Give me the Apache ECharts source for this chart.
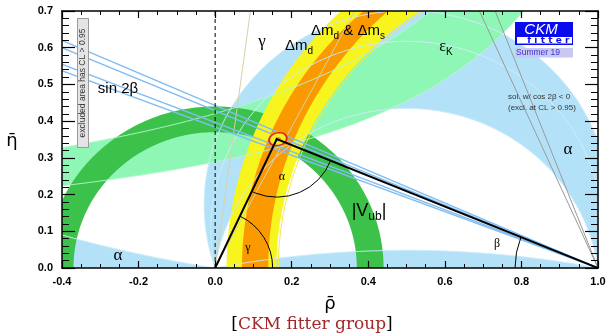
<!DOCTYPE html>
<html>
<head>
<meta charset="utf-8">
<title>Unitarity triangle – CKM fitter</title>
<script src="https://cdn.jsdelivr.net/npm/echarts@6.0.0/dist/echarts.min.js"></script>
<style>
html, body { margin: 0; padding: 0; background: #fff; }
#chart { width: 606px; height: 335px; }
</style>
</head>
<body>
<div id="chart"></div>
<script>
// ---------- constraint values in the (rho-bar, eta-bar) plane ----------
const apex = [0.161, 0.351];                 // global fit, best point
const apexContour = [0.026, 0.019, 15];      // 95% CL ellipse: semi-axes (rho, eta), tilt (deg)
const vubRadius = [0.37, 0.44];              // |Vub| annulus around (0,0)
// dmd & dms edges as circles [centre rho, radius] (centre eta = 0)
const dmEdges95 = [[1, 0.84], [1, 0.97]];
const dmEdges68 = [[1.0775, 0.9388], [1, 0.93]];
const dmdOnlyRadius = [0.835];               // dmd alone, inner 95% CL edge
const alphaMain = [71, 98];                  // alpha (deg), main solution
const alphaFlat = [169, 180];                // alpha (deg), flat solution
const alphaLow = [0, 9];                     // alpha (deg), low solution (rho < 0)
const alphaExtraEdge = [78];                 // alpha (deg), 68% CL edge
const epsKLower = [1.371, 0.396];            // eps_K edge: eta = b / (a - rho) -> [a, b]
const epsKUpper = [1.412, 0.594];
const sin2Beta = [0.669, 0.685, 0.724, 0.740];
const gammaDeg = [62.5, 82.5];
const xTickLabels = ['-0.4', '-0.2', '0.0', '0.2', '0.4', '0.6', '0.8', '1.0'];
const yTickLabels = ['0.0', '0.1', '0.2', '0.3', '0.4', '0.5', '0.6', '0.7'];

// ---------- geometry helpers (data space) ----------
const RAD = Math.PI / 180;
const sans = 'Liberation Sans, Arial, sans-serif';
const serif = 'Liberation Serif, Times New Roman, serif';

function arcPoints(cx, cy, r, t0, t1, n) {
  const pts = [];
  for (let i = 0; i <= n; i++) {
    const t = t0 + (t1 - t0) * i / n;
    pts.push([cx + r * Math.cos(t), cy + r * Math.sin(t)]);
  }
  return pts;
}
function annulus(cx, cy, r0, r1, t0, t1) {
  return arcPoints(cx, cy, r1, t0, t1, 160).concat(arcPoints(cx, cy, r0, t1, t0, 160));
}
// band between two circles centred on the rho axis, upper half, left side
function circleBand(inner, outer) {
  return arcPoints(outer[0], 0, outer[1], Math.PI / 2, Math.PI, 160)
    .concat(arcPoints(inner[0], 0, inner[1], Math.PI, Math.PI / 2, 160));
}
// circle of constant alpha through (0,0) and (1,0); arc above the chord, from (1,0) to (0,0)
function alphaArc(aDeg) {
  if (aDeg >= 180) return [[1, 0], [0, 0]];
  const a = aDeg * RAD;
  return arcPoints(0.5, 0.5 / Math.tan(a), 0.5 / Math.sin(a), (aDeg - 90) * RAD, (270 - aDeg) * RAD, 240);
}
// part of an alpha circle left of the origin (small alpha solution)
function alphaLeftArc(aDeg) {
  const a = aDeg * RAD;
  return arcPoints(0.5, 0.5 / Math.tan(a), 0.5 / Math.sin(a), (270 - aDeg) * RAD, (236 - aDeg) * RAD, 120);
}
function epsKEdge(p, r0, r1) {
  const pts = [];
  for (let r = r0; r <= r1 + 1e-9; r += 0.005) pts.push([r, p[1] / (p[0] - r)]);
  return pts;
}
function betaLine(s) {
  const t = Math.tan(Math.asin(s) / 2);
  return [[1, 0], [-0.6, 1.6 * t]];
}
function betaMirrorLine(s) {
  const t = 1 / Math.tan(Math.asin(s) / 2);
  return [[1, 0], [1 - 0.9 / t, 0.9]];
}

// ---------- drawing helpers ----------
const px = (api, pts) => pts.map(p => api.coord(p));
function poly(api, pts, fill) {
  return { type: 'polygon', shape: { points: px(api, pts) }, style: { fill: fill, stroke: 'none' } };
}
function pline(api, pts, stroke, w, dash) {
  return { type: 'polyline', shape: { points: px(api, pts) },
    style: { fill: 'none', stroke: stroke, lineWidth: w, lineDash: dash || null } };
}
function layer(z, draw) {
  return {
    type: 'custom', coordinateSystem: 'cartesian2d', xAxisIndex: 0, yAxisIndex: 0,
    clip: true, silent: true, z: z, data: [[0.3, 0.3]],
    renderItem: (params, api) => ({ type: 'group', children: draw(api) })
  };
}

const C = {
  alpha: '#b3e2f8', epsK: '#8ff7b6', vub: '#3cc14a', yellow: '#f7f41e', orange: '#fa9a00',
  paleBlue: 'rgba(205,235,250,0.95)', paleGreen: 'rgba(180,247,205,0.95)',
  sin2b: '#80bdf2', gamma: '#d8d0a8', mirror: '#999999'
};

const series = [
  // alpha regions
  layer(2, api => [
    poly(api, alphaArc(alphaMain[0]).concat(alphaArc(alphaMain[1]).reverse()), C.alpha),
    poly(api, alphaArc(alphaFlat[0]).concat(alphaArc(alphaFlat[1]).reverse()), C.alpha),
    poly(api, (() => { const a = alphaLeftArc(alphaLow[1]); return a.concat([[a[a.length - 1][0], 0]]); })(), C.alpha)
  ]),
  // eps_K
  layer(3, api => [
    poly(api, epsKEdge(epsKLower, -0.5, 0.9).concat(epsKEdge(epsKUpper, -0.5, 0.9).reverse()), C.epsK)
  ]),
  // |Vub|
  layer(4, api => [poly(api, annulus(0, 0, vubRadius[0], vubRadius[1], 0, Math.PI), C.vub)]),
  // dmd & dms
  layer(5, api => [
    poly(api, circleBand(dmEdges95[0], dmEdges95[1]), C.yellow),
    poly(api, circleBand(dmEdges68[0], dmEdges68[1]), C.orange)
  ]),
  // thin contour lines drawn over the filled regions
  layer(6, api => [
    pline(api, epsKEdge(epsKLower, -0.5, 0.9), C.paleGreen, 1),
    pline(api, epsKEdge(epsKUpper, -0.5, 0.9), C.paleGreen, 1),
    pline(api, alphaArc(alphaMain[0]), C.paleBlue, 1),
    pline(api, alphaArc(alphaMain[1]), C.paleBlue, 1),
    pline(api, alphaArc(alphaExtraEdge[0]), C.paleBlue, 1),
    pline(api, alphaArc(alphaFlat[0]), C.paleBlue, 1),
    pline(api, alphaLeftArc(alphaLow[1]), C.paleBlue, 1),
    pline(api, arcPoints(1, 0, dmdOnlyRadius[0], Math.PI / 2, Math.PI, 160), '#f2ee3a', 1),
    pline(api, [[0, 0], [0.9 / Math.tan(gammaDeg[0] * RAD), 0.9]], C.gamma, 1),
    pline(api, [[0, 0], [0.9 / Math.tan(gammaDeg[1] * RAD), 0.9]], C.gamma, 1)
  ]),
  // sin 2beta and the cos 2beta < 0 solution
  layer(7, api => sin2Beta.map(s => pline(api, betaLine(s), C.sin2b, 1.4)).concat([
    pline(api, betaMirrorLine(sin2Beta[0]), C.mirror, 1),
    pline(api, betaMirrorLine(sin2Beta[3]), C.mirror, 1)
  ])),
  // rho = 0 guide
  layer(8, api => [pline(api, [[0, 0], [0, 0.7]], '#000', 1, [4, 3])]),
  // triangle, angle arcs, apex contour
  layer(9, api => {
    const O = api.coord([0, 0]), B = api.coord([1, 0]), A = api.coord(apex);
    const ang = (p, q) => Math.atan2(q[1] - p[1], q[0] - p[0]);
    const arc = (c, r, a0, a1) => ({ type: 'arc', shape: { cx: c[0], cy: c[1], r: r, startAngle: a0, endAngle: a1, clockwise: true },
      style: { fill: 'none', stroke: '#000', lineWidth: 1 } });
    const ell = (k, fill) => {
      const pts = [];
      const th = apexContour[2] * RAD;
      for (let i = 0; i < 60; i++) {
        const t = 2 * Math.PI * i / 60;
        const dx = apexContour[0] * k * Math.cos(t), dy = apexContour[1] * k * Math.sin(t);
        pts.push([apex[0] + 0.003 + dx * Math.cos(th) - dy * Math.sin(th), apex[1] + dx * Math.sin(th) + dy * Math.cos(th)]);
      }
      return poly(api, pts, fill);
    };
    return [
      arc(A, 58, ang(A, B), ang(A, O)),
      arc(O, 57.5, ang(O, A), 0),
      arc(B, 83, Math.PI, ang(B, A) + 2 * Math.PI),
      ell(1, '#e4261c'),
      ell(0.8, '#f7ee2a'),
      ell(0.3, '#f59a10'),
      pline(api, [[0, 0], apex, [1, 0]], '#000', 2)
    ];
  })
];

function rich(x, y, parts, size, extra) {
  const text = parts.map(p => '{' + p[1] + '|' + p[0] + '}').join('');
  const st = {
    m: { fontSize: size, fontFamily: sans, lineHeight: size + 6, fill: '#000' },
    g: { fontSize: size + 1, fontFamily: serif, lineHeight: size + 6, fill: '#000' },
    s: { fontSize: Math.round(size * 0.68), fontFamily: sans, verticalAlign: 'bottom', fill: '#000' }
  };
  return Object.assign({ type: 'text', x: x, y: y, z: 100, silent: true,
    style: { text: text, rich: st, align: 'center', verticalAlign: 'middle' } }, extra || {});
}
function label(x, y, text, size, family, opts) {
  return { type: 'text', x: x, y: y, z: 100, silent: true, rotation: (opts && opts.rotation) || 0,
    style: Object.assign({ text: text, fontSize: size, fontFamily: family, fill: '#000', align: 'center', verticalAlign: 'middle' }, (opts && opts.style) || {}) };
}

const graphics = [
  label(118, 89, 'sin 2β', 15, sans),
  label(262, 42, 'γ', 17, serif),
  rich(299, 46, [['Δm', 'm'], ['d', 's']], 15),
  rich(348, 31, [['Δm', 'm'], ['d', 's'], [' & Δm', 'm'], ['s', 's']], 15),
  rich(446, 47, [['ε', 'g'], ['K', 's']], 15),
  rich(369, 211, [['|V', 'm'], ['ub', 's'], ['|', 'm']], 18),
  label(118, 256, 'α', 17, serif),
  label(568, 150, 'α', 17, serif),
  label(282, 177, 'α', 12, serif),
  label(248, 248, 'γ', 12, serif),
  label(497, 244, 'β', 12, serif),
  label(508, 97, 'sol. w/ cos 2β < 0', 8, sans, { style: { align: 'left', fill: '#333' } }),
  label(508, 108, '(excl. at CL > 0.95)', 8, sans, { style: { align: 'left', fill: '#333' } }),
  // excluded-area note
  { type: 'rect', z: 100, silent: true, shape: { x: 77.5, y: 18.5, width: 11, height: 129 },
    style: { fill: '#e4e4e4', stroke: '#9a9a9a', lineWidth: 1 } },
  label(83, 83, 'excluded area has CL > 0.95', 8.5, sans, { rotation: Math.PI / 2, style: { fill: '#333' } }),
  // CKM fitter logo
  { type: 'rect', z: 100, silent: true, shape: { x: 515, y: 22, width: 58, height: 23 }, style: { fill: '#0a0aee' } },
  { type: 'rect', z: 100, silent: true, shape: { x: 517, y: 37, width: 55, height: 6.5 }, style: { fill: '#fff' } },
  label(541, 29.5, 'CKM', 15, sans, { style: { fill: '#fff', fontStyle: 'italic' } }),
  { type: 'text', x: 571, y: 40.5, z: 101, silent: true,
    style: { text: '{l|f}{l|i}{l|t}{l|t}{l|e}{l|r}', align: 'right', verticalAlign: 'middle',
      rich: { l: { fontSize: 9, fontWeight: 'bold', fontFamily: 'DejaVu Sans, sans-serif', fill: '#1010e0', padding: [0, 1.6, 0, 1.6] } } } },
  { type: 'rect', z: 100, silent: true, shape: { x: 515, y: 48, width: 58, height: 9.5 }, style: { fill: '#c8c8f2' } },
  label(538, 53, 'Summer 19', 8.5, sans, { style: { fill: '#3535d0' } }),
  // axis titles
  label(330, 304, 'ρ\u0304', 18, 'DejaVu Sans, sans-serif'),
  label(12, 141, 'η\u0304', 18, 'DejaVu Sans, sans-serif'),
  // caption
  { type: 'text', x: 312, y: 325, z: 100, silent: true,
    style: { text: '{b|[}{r|CKM fitter group}{b|]}', align: 'center', verticalAlign: 'middle',
      rich: { b: { fontSize: 17, fontFamily: 'DejaVu Serif, serif', fill: '#000' },
              r: { fontSize: 17, fontFamily: 'DejaVu Serif, serif', fill: '#a3262a' } } } }
];

function axisX(position, showLabels) {
  return {
    type: 'value', gridIndex: 0, position: position, min: -0.4, max: 1.0, interval: 0.2, z: 20,
    axisLine: { show: true, onZero: false, lineStyle: { color: '#000', width: 1.5 } },
    axisTick: { show: true, inside: true, length: 7, lineStyle: { color: '#000', width: 1.2 } },
    minorTick: { show: true, splitNumber: 4, length: 4, lineStyle: { color: '#000', width: 1 } },
    axisLabel: { show: showLabels, margin: 8, fontSize: 11, fontWeight: 'bold', fontFamily: sans, color: '#000',
      formatter: v => xTickLabels[Math.round((v + 0.4) / 0.2)] },
    splitLine: { show: false }, minorSplitLine: { show: false }
  };
}
function axisY(position, showLabels) {
  return {
    type: 'value', gridIndex: 0, position: position, min: 0, max: 0.7, interval: 0.1, z: 20,
    axisLine: { show: true, onZero: false, lineStyle: { color: '#000', width: 1.5 } },
    axisTick: { show: true, inside: true, length: 13, lineStyle: { color: '#000', width: 1.2 } },
    minorTick: { show: true, splitNumber: 5, length: 7, lineStyle: { color: '#000', width: 1 } },
    axisLabel: { show: showLabels, margin: 9, fontSize: 11, fontWeight: 'bold', fontFamily: sans, color: '#000',
      formatter: v => yTickLabels[Math.round(v / 0.1)] },
    splitLine: { show: false }, minorSplitLine: { show: false }
  };
}

const chart = echarts.init(document.getElementById('chart'), null, { renderer: 'canvas' });
chart.setOption({
  animation: false,
  backgroundColor: '#fff',
  grid: { left: 62, right: 8, top: 11, bottom: 67, containLabel: false, outerBoundsMode: 'none' },
  xAxis: [axisX('bottom', true), axisX('top', false)],
  yAxis: [axisY('left', true), axisY('right', false)],
  series: series,
  graphic: { elements: graphics }
});
</script>
</body>
</html>
